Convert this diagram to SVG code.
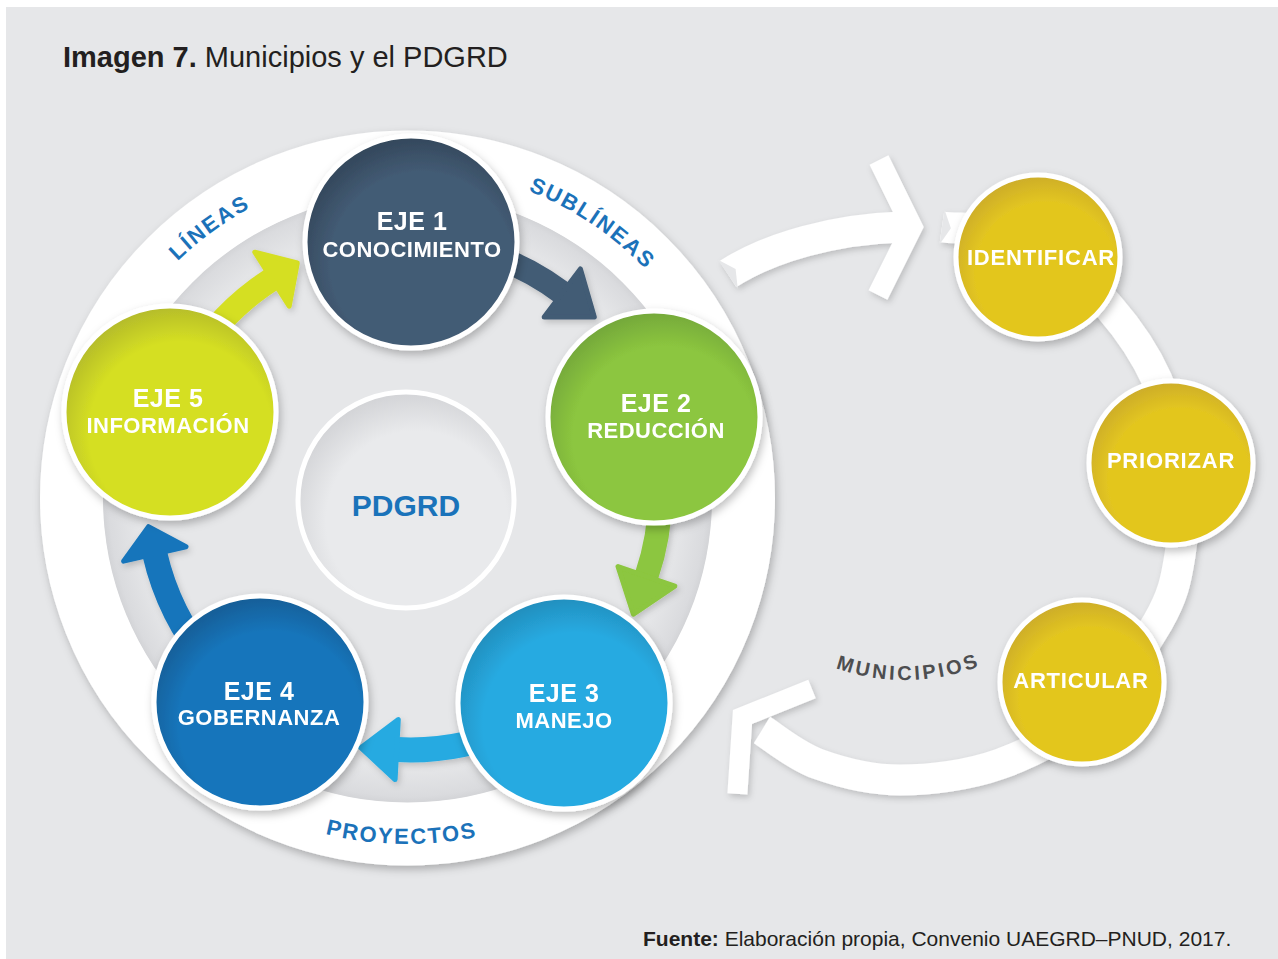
<svg xmlns="http://www.w3.org/2000/svg" width="1278" height="959" viewBox="0 0 1278 959">
<defs>
<style>
text{font-family:"Liberation Sans",Arial,Helvetica,sans-serif}
.lbl{fill:#fff;font-weight:bold;text-anchor:middle;letter-spacing:0.5px}
.eje{font-size:25px}
.sub{font-size:22px}
.act{font-size:22px;letter-spacing:0.8px}
.ring{fill:#1b72b9;font-weight:bold;font-size:22px;letter-spacing:1.8px}
.node{stroke:#fff;stroke-width:5}
.band{fill:none;stroke:#fff;stroke-width:31}
.chev{fill:none;stroke:#fff;stroke-linejoin:miter;stroke-miterlimit:6}
.notch{fill:#e6e7e9}
</style>
<filter id="sh" x="-20%" y="-20%" width="140%" height="140%"><feDropShadow dx="2" dy="4" stdDeviation="4" flood-color="#000" flood-opacity="0.25"/></filter>
<filter id="shs" x="-20%" y="-20%" width="140%" height="140%"><feDropShadow dx="2" dy="3" stdDeviation="3" flood-color="#000" flood-opacity="0.18"/></filter>
<radialGradient id="gIn" cx="0.5" cy="0.5" r="0.5"><stop offset="0.88" stop-color="#e6e7e9"/><stop offset="0.98" stop-color="#dadbde"/><stop offset="1" stop-color="#d3d4d7"/></radialGradient>
<radialGradient id="gP" cx="0.55" cy="0.6" r="0.6"><stop offset="0.7" stop-color="#e9eaec"/><stop offset="1" stop-color="#d3d4d7"/></radialGradient>
<radialGradient id="g1" cx="0.55" cy="0.6" r="0.6"><stop offset="0.72" stop-color="#435b74"/><stop offset="1" stop-color="#33475b"/></radialGradient>
<radialGradient id="g2" cx="0.55" cy="0.6" r="0.6"><stop offset="0.72" stop-color="#8cc63f"/><stop offset="1" stop-color="#74a83a"/></radialGradient>
<radialGradient id="g3" cx="0.55" cy="0.6" r="0.6"><stop offset="0.72" stop-color="#27aae1"/><stop offset="1" stop-color="#228fbe"/></radialGradient>
<radialGradient id="g4" cx="0.55" cy="0.6" r="0.6"><stop offset="0.72" stop-color="#1475bb"/><stop offset="1" stop-color="#135e97"/></radialGradient>
<radialGradient id="g5" cx="0.55" cy="0.6" r="0.6"><stop offset="0.72" stop-color="#d5df23"/><stop offset="1" stop-color="#b5bc2a"/></radialGradient>
<radialGradient id="gy" cx="0.55" cy="0.6" r="0.6"><stop offset="0.72" stop-color="#e3c61f"/><stop offset="1" stop-color="#cdad2a"/></radialGradient>
<path id="pLineas" d="M 87 419.3 A 330 330 0 0 1 429.4 168.7"/>
<path id="pSub" d="M 372.4 169.9 A 330 330 0 0 1 724.6 406.5"/>
<path id="pProy" d="M 180.5 759.1 A 346 346 0 0 0 625.2 766.9"/>
<path id="pMun" d="M 787.6 644.1 A 210 210 0 0 0 1028.4 639.9"/>
</defs>

<rect x="0" y="0" width="1278" height="959" fill="#ffffff"/>
<rect x="6" y="7" width="1272" height="952" fill="#e6e7e9"/>

<text x="63" y="67" font-size="29" fill="#231f20"><tspan font-weight="bold">Imagen 7.</tspan> Municipios y el PDGRD</text>

<g id="ring">
<circle cx="407.5" cy="498" r="335.75" fill="none" stroke="#fff" stroke-width="63.5" filter="url(#sh)"/>
<circle cx="407.5" cy="498" r="304.5" fill="url(#gIn)"/>
<text class="ring"><textPath href="#pLineas" startOffset="50%" text-anchor="middle">LÍNEAS</textPath></text>
<text class="ring"><textPath href="#pSub" startOffset="50%" text-anchor="middle">SUBLÍNEAS</textPath></text>
<text class="ring"><textPath href="#pProy" startOffset="50%" text-anchor="middle">PROYECTOS</textPath></text>
</g>

<g id="connectors">
<g filter="url(#shs)">
<path d="M 453.9 245.8 A 253 253 0 0 1 562.3 292.9" fill="none" stroke="#425b74" stroke-width="24"/>
<polygon points="580.4,268.9 594.3,317 544.2,316.9" fill="#425b74" stroke="#425b74" stroke-width="5" stroke-linejoin="round"/>
<path d="M 656.2 451.6 A 250 250 0 0 1 646.4 576.4" fill="none" stroke="#8cc63f" stroke-width="24"/>
<polygon points="674.8,586.2 633.4,614.2 618,566.6" fill="#8cc63f" stroke="#8cc63f" stroke-width="5" stroke-linejoin="round"/>
<path d="M 517.8 726.1 A 255 255 0 0 1 396.7 749.6" fill="none" stroke="#27aae1" stroke-width="25"/>
<polygon points="395.1,779.6 360.8,747.7 398.3,719.6" fill="#27aae1" stroke="#27aae1" stroke-width="5" stroke-linejoin="round"/>
<path d="M 209.3 663.4 A 262 262 0 0 1 154.8 553.9" fill="none" stroke="#1475bb" stroke-width="25"/>
<polygon points="123.6,561.1 148.5,526.6 186,546.7" fill="#1475bb" stroke="#1475bb" stroke-width="5" stroke-linejoin="round"/>
<path d="M 188.3 367 A 256 256 0 0 1 272 279.2" fill="none" stroke="#d5df23" stroke-width="24"/>
<polygon points="254.8,252.2 297.3,263 289.2,306.2" fill="#d5df23" stroke="#d5df23" stroke-width="5" stroke-linejoin="round"/>
</g>
<g filter="url(#shs)">
<path class="band" d="M 728 274 C 770 247, 835 229, 902 227"/>
<polyline class="chev" stroke-width="21" points="879,160 912,227 878,295"/>
<path class="band" d="M 942 227 C 957.5 229.2, 1007 226.5, 1035 240 C 1063 253.5, 1089.7 284.7, 1110 308 C 1130.3 331.3, 1145 353.3, 1157 380 C 1169 406.7, 1178.2 438.8, 1182 468 C 1185.8 497.2, 1184 529.3, 1180 555 C 1176 580.7, 1173 595.8, 1158 622 C 1143 648.2, 1116.3 688.3, 1090 712 C 1063.7 735.7, 1031.7 752.7, 1000 764 C 968.3 775.3, 930.3 780, 900 780 C 869.7 780, 841 772.3, 818 764 C 795 755.7, 771.3 735.7, 762 730"/>
<polyline class="chev" stroke-width="20" points="812,689 742.5,717 737.4,793.8"/>
</g>
<polygon class="notch" points="717.6,259.5 735.6,269 737.8,289"/>
<polygon class="notch" points="944.5,209.5 950.9,228.3 939.5,244.5"/>
<text font-size="20" font-weight="bold" fill="#4d4e50" letter-spacing="3"><textPath href="#pMun" startOffset="50%" text-anchor="middle">MUNICIPIOS</textPath></text>
</g>

<g id="pdgrd">
<circle cx="406" cy="500" r="108" fill="url(#gP)" stroke="#fff" stroke-width="5"/>
<text x="406" y="516" font-size="30" font-weight="bold" fill="#1a73ba" text-anchor="middle">PDGRD</text>
</g>

<g id="eje1" filter="url(#sh)">
<circle class="node" cx="411" cy="242" r="106" fill="url(#g1)"/>
<text class="lbl eje" x="412" y="230">EJE 1</text>
<text class="lbl sub" x="412" y="257">CONOCIMIENTO</text>
</g>
<g id="eje2" filter="url(#sh)">
<circle class="node" cx="654" cy="417" r="106" fill="url(#g2)"/>
<text class="lbl eje" x="656" y="412">EJE 2</text>
<text class="lbl sub" x="656" y="438">REDUCCIÓN</text>
</g>
<g id="eje3" filter="url(#sh)">
<circle class="node" cx="564" cy="703" r="106" fill="url(#g3)"/>
<text class="lbl eje" x="564" y="702">EJE 3</text>
<text class="lbl sub" x="564" y="728">MANEJO</text>
</g>
<g id="eje4" filter="url(#sh)">
<circle class="node" cx="260" cy="702" r="106" fill="url(#g4)"/>
<text class="lbl eje" x="259" y="700">EJE 4</text>
<text class="lbl sub" x="259" y="725">GOBERNANZA</text>
</g>
<g id="eje5" filter="url(#sh)">
<circle class="node" cx="170" cy="412" r="106" fill="url(#g5)"/>
<text class="lbl eje" x="168" y="407">EJE 5</text>
<text class="lbl sub" x="168" y="433">INFORMACIÓN</text>
</g>

<g id="identificar" filter="url(#sh)">
<circle class="node" cx="1038" cy="257" r="82" fill="url(#gy)"/>
<text class="lbl act" x="1041" y="265">IDENTIFICAR</text>
</g>
<g id="priorizar" filter="url(#sh)">
<circle class="node" cx="1171" cy="463" r="82" fill="url(#gy)"/>
<text class="lbl act" x="1171" y="468">PRIORIZAR</text>
</g>
<g id="articular" filter="url(#sh)">
<circle class="node" cx="1082" cy="682" r="82" fill="url(#gy)"/>
<text class="lbl act" x="1081" y="688">ARTICULAR</text>
</g>

<text x="643" y="946" font-size="21" fill="#231f20"><tspan font-weight="bold">Fuente:</tspan> Elaboración propia, Convenio UAEGRD–PNUD, 2017.</text>
</svg>
